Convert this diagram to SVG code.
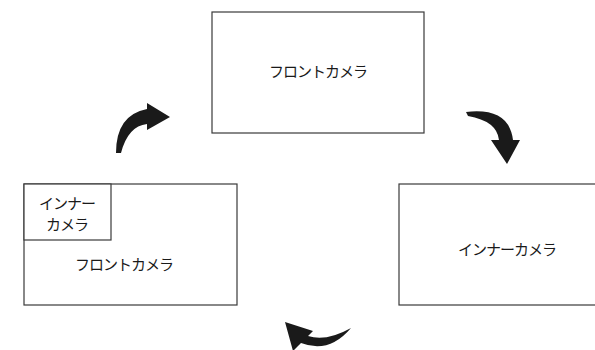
<svg xmlns="http://www.w3.org/2000/svg" width="595" height="350" viewBox="0 0 595 350">
<style>
.box{fill:#fff;stroke:#3a3a3a;stroke-width:1.2}
.lbl{font-family:"Noto Sans CJK JP","Noto Sans",sans-serif;font-size:15px;letter-spacing:-1px;fill:#1a1a1a;text-anchor:middle}
.arr{fill:#1a1a1a}
</style>
<rect width="595" height="350" fill="#fff"/>
<g id="front-top">
<rect class="box" x="212" y="12" width="212" height="121"/>
<text class="lbl" x="318" y="77">フロントカメラ</text>
</g>
<g id="combined-left">
<rect class="box" x="24" y="184" width="213" height="121"/>
<text class="lbl" x="124" y="270">フロントカメラ</text>
</g>
<g id="inner-inset">
<rect class="box" x="24" y="184" width="87" height="56"/>
<text class="lbl" x="67" y="209">インナー</text>
<text class="lbl" x="67" y="230">カメラ</text>
</g>
<g id="inner-right">
<rect class="box" x="399" y="184" width="213" height="121"/>
<text class="lbl" x="507" y="255">インナーカメラ</text>
</g>
<g id="connectors">
<path class="arr" d="M116,153 Q116,115 147,109 L147,103 L170,117 L147,130 L147,124 Q128,126 121,153 Z"/>
<path class="arr" d="M466,112 Q509,107 513,140 L520,140 L507,164 L491,140 L499,140 Q497,121 468,116 Z"/>
<path class="arr" d="M285,322 L313,331 L308,336 Q326,342 351,328 Q329,354 301,343 L293,351 Z"/>
</g>
</svg>
